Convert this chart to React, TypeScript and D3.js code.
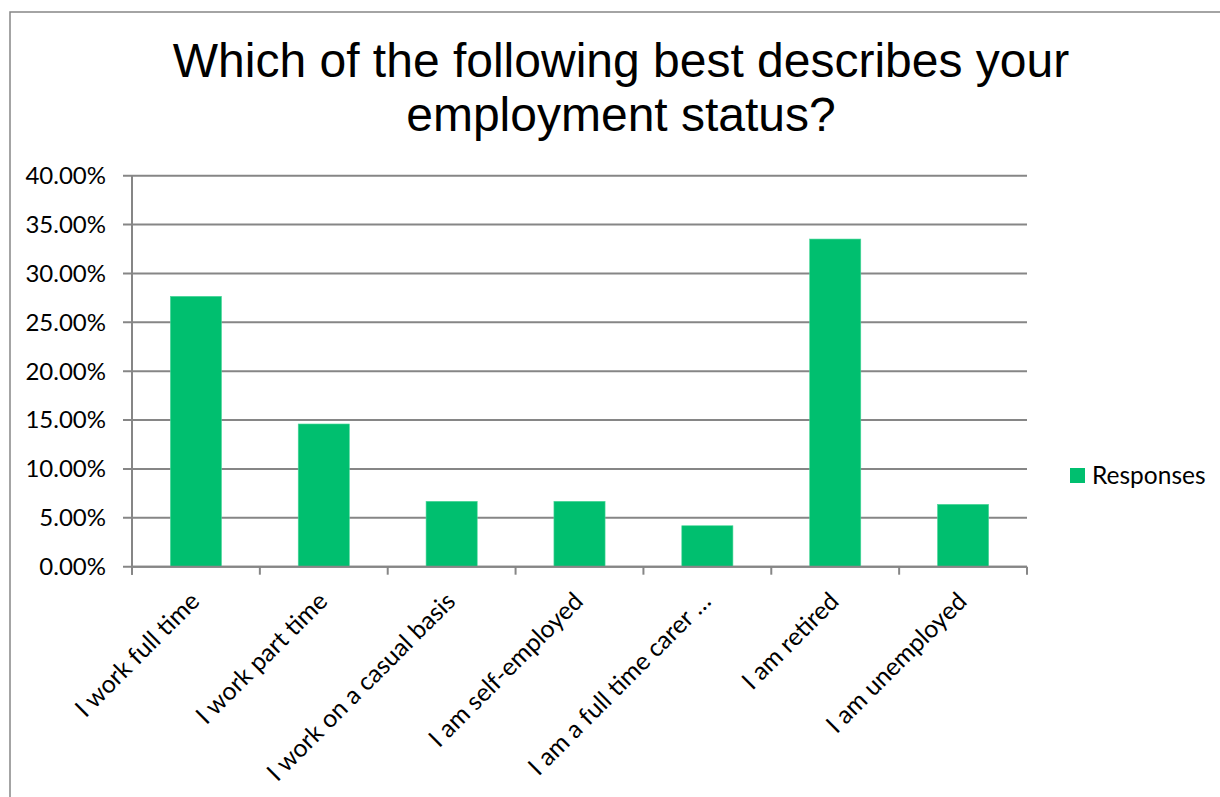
import React from "react";
import * as d3 from "d3";

const categories = [
  "I work full time",
  "I work part time",
  "I work on a casual basis",
  "I am self-employed",
  "I am a full time carer …",
  "I am retired",
  "I am unemployed",
];
const responses = [0.2766, 0.146, 0.0669, 0.0669, 0.0419, 0.3352, 0.0638];
const yTicks = [0, 0.05, 0.1, 0.15, 0.2, 0.25, 0.3, 0.35, 0.4];
const titleLines = ["Which of the following best describes your", "employment status?"];
const seriesName = "Responses";

const W = 1220;
const H = 797;
const plot = { left: 132, right: 1027, top: 175.7, bottom: 566.7 };
const green = "#00BF6F";
const grid = "#868686";
const labelFont = "Lato, 'Open Sans', sans-serif";

export default function App() {
  const x = d3
    .scaleBand<string>()
    .domain(categories)
    .range([plot.left, plot.right])
    .paddingInner(0.6)
    .paddingOuter(0.3);
  const step = (plot.right - plot.left) / categories.length;
  const y = d3.scaleLinear().domain([0, 0.4]).range([plot.bottom, plot.top]);
  const fmt = d3.format(".2%");
  const tickEdges = d3.range(categories.length + 1).map((i) => plot.left + i * step);

  return (
    <svg
      width={W}
      height={H}
      style={{ position: "absolute", left: 0, top: 0, background: "#fff" }}
    >
      <rect x={10} y={12} width={W + 20} height={H + 20} fill="#fff" stroke={grid} strokeWidth={1.5} />
      {titleLines.map((t, i) => (
        <text
          key={t}
          x={621}
          y={76.5 + i * 54.5}
          textAnchor="middle"
          fontFamily="'Liberation Sans', Arial, sans-serif"
          fontSize={48}
          fill="#000"
        >
          {t}
        </text>
      ))}
      {yTicks.map((v) => (
        <g key={v}>
          <line x1={123} x2={plot.right} y1={y(v)} y2={y(v)} stroke={grid} strokeWidth={2} />
          <text
            x={106}
            y={y(v)}
            dy="0.35em"
            textAnchor="end"
            fontFamily={labelFont}
            fontSize={24}
            fill="#000"
          >
            {fmt(v)}
          </text>
        </g>
      ))}
      {categories.map((c, i) => (
        <rect
          key={c}
          x={x(c)}
          y={y(responses[i])}
          width={x.bandwidth()}
          height={plot.bottom - y(responses[i])}
          fill={green}
          stroke="#4fd89c"
          strokeWidth={0.6}
        />
      ))}
      <line x1={plot.left} x2={plot.left} y1={plot.top} y2={plot.bottom + 8} stroke={grid} strokeWidth={2} />
      <line x1={plot.left} x2={plot.right} y1={plot.bottom} y2={plot.bottom} stroke={grid} strokeWidth={2} />
      {tickEdges.map((t, i) => (
        <line key={i} x1={t} x2={t} y1={plot.bottom} y2={plot.bottom + 8} stroke={grid} strokeWidth={2} />
      ))}
      {categories.map((c) => {
        const cx = (x(c) ?? 0) + x.bandwidth() / 2 - 1;
        const cy = plot.bottom + 30;
        return (
          <text
            key={c}
            transform={`translate(${cx},${cy}) rotate(-45)`}
            textAnchor="end"
            dy="0.35em"
            fontFamily={labelFont}
            fontSize={24.8}
            fill="#000"
          >
            {c}
          </text>
        );
      })}
      <rect x={1070} y={468} width={15} height={15} fill={green} />
      <text x={1092} y={475.5} dy="0.35em" fontFamily={labelFont} fontSize={24.5} fill="#000">
        {seriesName}
      </text>
    </svg>
  );
}
